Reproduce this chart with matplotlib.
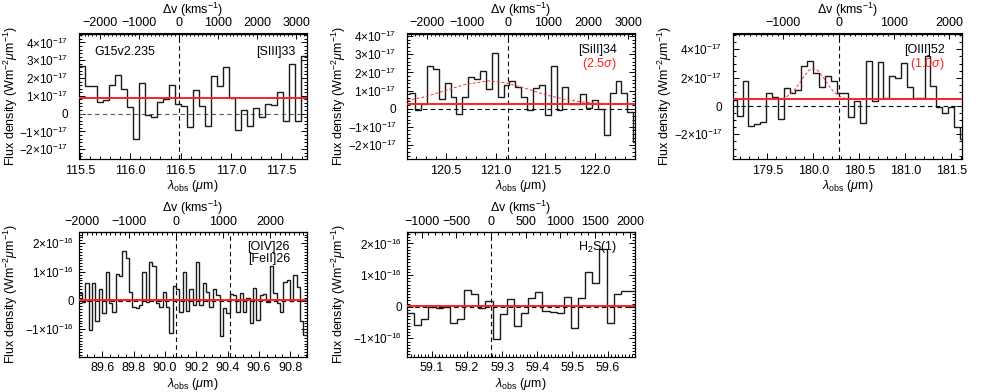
import numpy as np
import matplotlib
matplotlib.use("Agg")
from matplotlib import pyplot as plt
from matplotlib.ticker import MultipleLocator, AutoMinorLocator, FixedLocator

plt.rcParams['font.family'] = ['Liberation Sans', 'DejaVu Sans']
plt.rcParams['mathtext.fontset'] = 'custom'
plt.rcParams['mathtext.rm'] = 'Liberation Sans'
plt.rcParams['mathtext.it'] = 'Liberation Sans:italic'
plt.rcParams['mathtext.bf'] = 'Liberation Sans:bold'
plt.rcParams['font.size'] = 9

C_KMS = 299792.458

# [SIII]33  (flux in 1e-17 W m^-2 um^-1)
s3_flux = [2.69, 1.53, 1.57, 0.64, 0.75, 1.59, 2.15, 1.40, 0.36, -1.42,
           1.74, -0.06, -0.19, 0.64, 0.84, 1.63, 0.52, 0.41, -0.75, 1.35,
           0.41, -0.67, 2.09, 1.57, 2.60, 0.86, -0.90, 0.21, -0.69, 0.30,
           -0.19, 0.56, 0.50, 1.21, -0.43, 2.78, -0.43, 3.21]
s3_edges = (115.49, 117.75)
s3_xlim = (115.49, 117.75)
s3_line = [116.48]
s3_cont = 0.86
s3_vticks = [-2000, -1000, 0, 1000, 2000, 3000]

# [SiII]34  (1e-17)
si2_flux = [0.88, -0.07, 0.26, 2.36, 2.17, 0.53, 1.40, 0.66, -0.31, 0.66,
            1.77, 1.66, 2.08, 1.07, 3.09, 0.66, 1.31, 1.55, 1.18, 0.66,
            -0.07, 1.16, 1.31, -0.37, 2.36, -0.07, 1.18, 0.26, 0.26, 0.79,
            0.02, 0.48, 0.00, -1.44, 0.85, 1.53, 0.85, -0.17, -1.82]
si2_edges = (120.133, 122.441)
si2_xlim = (120.11, 122.40)
si2_line = [121.12]
si2_cont = 0.26
si2_vticks = [-2000, -1000, 0, 1000, 2000, 3000]
si2_fit_lam = [120.11, 120.3, 120.5, 120.7, 120.93, 121.1, 121.3, 121.5,
               121.7, 121.9, 122.1, 122.4]
si2_fit_flux = [0.45, 0.67, 1.01, 1.35, 1.53, 1.43, 1.12, 0.77, 0.50, 0.35,
                0.29, 0.26]

# [OIII]52  (1e-17)
o3_flux = [0.40, -0.71, 1.76, -1.41, -1.27, -1.11, 0.89, 0.66, -0.94, 1.25,
           0.89, 1.13, 2.82, 3.18, 2.35, 1.36, 2.12, 1.76, 0.94, 0.89,
           -0.75, 0.35, -1.22, 3.20, 0.38, 3.13, 0.54, 2.12, 1.95, 3.06,
           1.32, 0.54, 0.59, 3.53, 1.41, -0.05, -0.52, -0.05, -1.51, -2.35,
           -0.05]
o3_edges = (179.104, 181.719)
o3_xlim = (179.128, 181.615)
o3_line = [180.275]
o3_cont = 0.49
o3_vticks = [-1000, 0, 1000, 2000]
o3_fit_lam = [179.66, 179.72, 179.78, 179.84, 179.90, 179.95, 180.00,
              180.05, 180.10, 180.16, 180.22, 180.28, 180.36]
o3_fit_flux = [0.50, 0.70, 1.01, 1.51, 2.10, 2.51, 2.66, 2.51, 2.10, 1.51,
               1.01, 0.70, 0.50]

# [OIV]26 / [FeII]26  (1e-16)
o4_flux = [0.27, -0.05, 0.62, -1.02, 0.62, -0.71, 0.39, -0.45, 1.00, -0.10,
           -0.39, 0.91, 0.87, 1.73, 1.50, 0.30, -0.22, -0.27, -0.16, 1.00,
           -0.05, 1.35, 1.19, -0.10, -0.22, 0.30, -0.24, -1.13, 0.50, 0.41,
           -0.39, 0.98, -0.37, 0.39, -0.16, 1.35, -0.14, 0.62, 0.30, -0.22,
           0.41, 0.18, -1.25, -0.27, -0.45, 0.23, 0.18, -0.39, 0.27, -0.39,
           0.09, -0.79, 0.43, -0.67, 0.18, 0.24, -0.05, 1.19, 0.27, -0.10,
           -0.39, 0.66, 0.73, -0.02, 0.89, 0.47, -0.71, -1.19]
o4_edges = (89.45, 90.905)
o4_xlim = (89.45, 90.905)
o4_line = [90.073, 90.413]
o4_cont = 0.01
o4_vticks = [-2000, -1000, 0, 1000, 2000]

# H2S(1)  (1e-16)
h2s_flux = [-0.21, -0.58, -0.39, -0.02, -0.05, -0.02, -0.53, -0.39, 0.53,
            0.41, -0.05, 0.18, -1.02, -0.23, 0.23, -0.60, -0.20, 0.28, 0.47,
            -0.13, -0.16, -0.19, 0.32, -0.66, 0.26, 1.10, 0.76, 1.82, -0.53,
            0.41, 0.50, 0.50]
h2s_edges = (59.029, 59.678)
h2s_xlim = (59.029, 59.678)
h2s_line = [59.268]
h2s_cont = 0.03
h2s_vticks = [-1000, -500, 0, 500, 1000, 1500, 2000]

W, H = 981.0, 392.0


def rect(left_px, bottom_px, w_px, h_px):
    return [left_px / W, (H - bottom_px) / H, w_px / W, h_px / H]


def ticklabels(vals, exp):
    out = []
    for v in vals:
        if v == 0:
            out.append('0')
        else:
            sign = '\u2212' if v < 0 else ''
            out.append(sign + '%d\u00d710$^{%d}$' % (abs(v), exp))
    return out


def spectrum_panel(fig, box, flux, edges, xlim, lines, cont, ylim, yticks,
                   exp, xmajor, xminor, vticks, vminor, yminor, ypad,
                   fit=None, zero_color='k', zero_on_top=False):
    ax = fig.add_axes(box)
    lam_edges = np.linspace(edges[0], edges[1], len(flux) + 1)
    ax.stairs(flux, lam_edges, baseline=None, color='0.1', lw=1.0, zorder=3)

    zz = 5 if zero_on_top else 2
    ax.axhline(0, color=zero_color, ls=(0, (4, 3)), lw=0.8, zorder=zz)
    ax.axhline(cont, color='#ff2020', lw=1.4, zorder=4)
    for l in lines:
        ax.axvline(l, color='k', ls=(0, (4, 3)), lw=0.8, zorder=2)
    if fit is not None:
        ax.plot(fit[0], fit[1], color='#ff3030', ls=(0, (3, 2)), lw=0.7,
                zorder=4)

    ax.set_xlim(*xlim)
    ax.set_ylim(*ylim)
    ax.set_yticks(yticks, ticklabels(yticks, exp))
    ax.yaxis.set_minor_locator(AutoMinorLocator(yminor))
    ax.xaxis.set_major_locator(MultipleLocator(xmajor))
    ax.xaxis.set_minor_locator(AutoMinorLocator(xminor))
    ax.tick_params(which='both', direction='in', top=False, right=True,
                   width=0.7)
    ax.tick_params(which='major', length=4)
    ax.tick_params(axis='x', which='major', pad=4)
    ax.tick_params(axis='y', which='major', pad=ypad, labelsize=8.5)
    ax.tick_params(which='minor', length=2)
    ax.set_xlabel(r'$\lambda_{\rm obs}$ ($\mu$m)', labelpad=1)
    ax.set_ylabel(r'Flux density (Wm$^{-2}$$\mu$m$^{-1}$)')
    ax.yaxis.set_label_coords(-0.258, 0.5)
    for sp in ax.spines.values():
        sp.set_linewidth(0.9)

    lam0 = lines[0]
    sec = ax.secondary_xaxis('top', functions=(
        lambda x: C_KMS * (x / lam0 - 1.0),
        lambda v: lam0 * (1.0 + v / C_KMS)))
    sec.xaxis.set_major_locator(FixedLocator(vticks))
    sec.xaxis.set_minor_locator(AutoMinorLocator(vminor))
    sec.tick_params(which='both', direction='in', width=0.7)
    sec.tick_params(which='major', length=4, pad=3)
    sec.tick_params(which='minor', length=2)
    sec.set_xlabel(r'$\Delta$v (kms$^{-1}$)', labelpad=2.5)
    return ax


fig = plt.figure(figsize=(9.81, 3.92), dpi=100)

ax1 = spectrum_panel(fig, rect(78.7, 159, 228, 125.5), s3_flux, s3_edges,
                     s3_xlim, s3_line, s3_cont, (-2.55, 4.5),
                     [-2, -1, 0, 1, 2, 3, 4], -17, 0.5, 5, s3_vticks, 10, 5,
                     7.5, zero_color='0.35')
ax1.text(0.07, 0.85, 'G15v2.235', transform=ax1.transAxes, ha='left',
         va='center')
ax1.text(0.95, 0.85, '[SIII]33', transform=ax1.transAxes, ha='right',
         va='center')

ax2 = spectrum_panel(fig, rect(407, 159, 228, 125.5), si2_flux, si2_edges,
                     si2_xlim, si2_line, si2_cont, (-2.78, 4.15),
                     [-2, -1, 0, 1, 2, 3, 4], -17, 0.5, 5, si2_vticks, 10, 5,
                     7.5, fit=(si2_fit_lam, si2_fit_flux))
ax2.text(0.92, 0.87, '[SiII]34', transform=ax2.transAxes, ha='right',
         va='center')
ax2.text(0.92, 0.76, r'(2.5$\sigma$)', transform=ax2.transAxes, ha='right',
         va='center', color='#ff2020')

ax3 = spectrum_panel(fig, rect(733, 159, 229, 125.5), o3_flux, o3_edges,
                     o3_xlim, o3_line, o3_cont, (-3.74, 5.12),
                     [-2, 0, 2, 4], -17, 0.5, 5, o3_vticks, 10, 4,
                     7.5, fit=(o3_fit_lam, o3_fit_flux))
ax3.text(0.925, 0.87, '[OIII]52', transform=ax3.transAxes, ha='right',
         va='center')
ax3.text(0.925, 0.76, r'(1.0$\sigma$)', transform=ax3.transAxes, ha='right',
         va='center', color='#ff2020')

ax4 = spectrum_panel(fig, rect(78.7, 356.7, 228, 125), o4_flux, o4_edges,
                     o4_xlim, o4_line, o4_cont, (-1.96, 2.40),
                     [-1, 0, 1, 2], -16, 0.2, 4, o4_vticks, 10, 10,
                     3.5)
ax4.text(0.927, 0.88, '[OIV]26', transform=ax4.transAxes, ha='right',
         va='center')
ax4.text(0.927, 0.78, '[FeII]26', transform=ax4.transAxes, ha='right',
         va='center')

ax5 = spectrum_panel(fig, rect(407, 356.7, 228, 125), h2s_flux, h2s_edges,
                     h2s_xlim, h2s_line, h2s_cont, (-1.58, 2.37),
                     [-1, 0, 1, 2], -16, 0.1, 10, h2s_vticks, 5, 10,
                     3.5, zero_on_top=True)
ax5.text(0.92, 0.88, 'H$_2$S(1)', transform=ax5.transAxes, ha='right',
         va='center')

fig.savefig('out.png', dpi=100)
